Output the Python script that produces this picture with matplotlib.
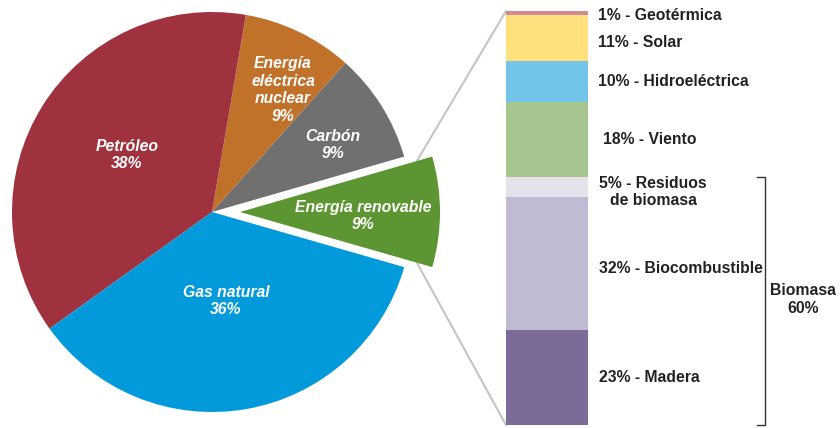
import matplotlib
matplotlib.use("Agg")
import matplotlib.pyplot as plt
from matplotlib.patches import ConnectionPatch
import numpy as np

plt.rcParams['font.family'] = ['Liberation Sans', 'DejaVu Sans']

# Primary energy mix
sources = ["Energía renovable", "Carbón", "Energía\neléctrica\nnuclear", "Petróleo", "Gas natural"]
shares = [9, 9, 9, 38, 36]
source_colors = ["#5C9632", "#707070", "#C0712A", "#A03240", "#039ADB"]

# Breakdown of renewable energy
renew_names = ["Geotérmica", "Solar", "Hidroeléctrica", "Viento",
               "Residuos\nde biomasa", "Biocombustible", "Madera"]
renew_shares = [1, 11, 10, 18, 5, 32, 23]
renew_colors = ["#D08A91", "#FFE07D", "#72C4E8", "#A7C58E",
                "#E5E2EC", "#C1BAD3", "#7C6B99"]
biomass_names = ["Residuos\nde biomasa", "Biocombustible", "Madera"]

W, H = 840, 428
FS = 11.3
fig = plt.figure(figsize=(W / 100, H / 100), dpi=100)
ax = fig.add_axes([0, 0, 1, 1])

explode = [28, 0, 0, 0, 0]
wedges, _ = ax.pie(shares, colors=source_colors, startangle=-16, counterclock=True,
                   center=(212, 216), radius=200, explode=explode,
                   wedgeprops=dict(edgecolor="none", linewidth=0), frame=True)
ax.set_xlim(0, W)
ax.set_ylim(0, H)
ax.set_aspect("equal")
ax.axis("off")

label_pos = [(363, 216), (333, 145), (283, 90), (127, 155), (226, 301)]
for name, val, (px, py) in zip(sources, shares, label_pos):
    ax.text(px, H - py, f"{name}\n{val}%", ha="center", va="center",
            color="white", fontsize=FS, fontweight="bold", fontstyle="italic",
            linespacing=1.2)

# Stacked bar for the renewable breakdown
ax2 = fig.add_axes([506 / W, (H - 425) / H, 82 / W, 414 / H])
ax2.set_xlim(-0.5, 0.5)
ax2.set_ylim(100, 0)
ax2.axis("off")
bottoms = np.concatenate([[0], np.cumsum(renew_shares)[:-1]])
ax2.bar(0, renew_shares, bottom=bottoms, width=1.0, color=renew_colors,
        edgecolor="none", align="center")

label_x = [1.12, 1.12, 1.12, 1.18, 1.14, 1.13, 1.13]
label_dy = [0.7, 1.2, 0, 0, 1.3, 1.3, 0]
for name, val, b, lx, dy in zip(renew_names, renew_shares, bottoms, label_x, label_dy):
    first, *rest = name.split("\n")
    txt = f"{val}% - {first}" + ("".join("\n" + r for r in rest))
    ax2.text(lx - 0.5, b + val / 2 + dy, txt, ha="left", va="center",
             multialignment="center", fontsize=FS, fontweight="bold",
             color="#222222", clip_on=False, linespacing=1.15)

# Biomass bracket
bio_idx = [renew_names.index(n) for n in biomass_names]
bio_top = bottoms[bio_idx[0]]
bio_bot = bottoms[bio_idx[-1]] + renew_shares[bio_idx[-1]]
bio_total = sum(renew_shares[i] for i in bio_idx)
bx = (765 - 506) / 82 - 0.5
tick = 8 / 82
ax2.plot([bx - tick, bx, bx, bx - tick], [bio_top, bio_top, bio_bot, bio_bot],
         color="#333333", lw=1.0, clip_on=False)
ax2.text((803 - 506) / 82 - 0.5, (bio_top + bio_bot) / 2 - 0.3,
         f"Biomasa\n{bio_total}%", ha="center", va="center", fontsize=FS,
         fontweight="bold", color="#222222", clip_on=False, linespacing=1.2)

# Connector lines from the exploded wedge to the bar
w = wedges[0]
cx, cy = w.center
frac = 0.92
for ang, yb in [(w.theta2, 0), (w.theta1, 100)]:
    px = cx + frac * w.r * np.cos(np.radians(ang))
    py = cy + frac * w.r * np.sin(np.radians(ang))
    con = ConnectionPatch(xyA=(px, py), coordsA=ax.transData,
                          xyB=(-0.5, yb), coordsB=ax2.transData,
                          color="#C4C4C4", lw=1.5, zorder=0)
    fig.add_artist(con)

fig.savefig("out.png", dpi=100, facecolor="white")
